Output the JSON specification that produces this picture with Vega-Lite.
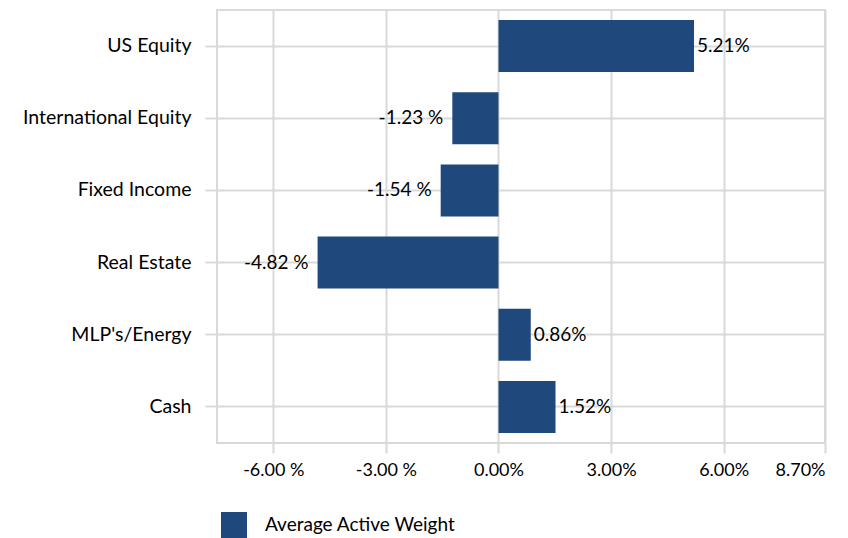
{
  "$schema": "https://vega.github.io/schema/vega-lite/v6.json",
  "width": 608,
  "height": 433,
  "autosize": "none",
  "padding": {"left": 217, "top": 10, "right": 23, "bottom": 95},
  "background": "white",
  "config": {
    "font": "Lato",
    "view": {"stroke": "#d9d9d9", "strokeWidth": 2},
    "axis": {"labelFont": "Lato", "labelFontSize": 19, "labelColor": "#000000", "gridColor": "#d9d9d9", "gridWidth": 2, "tickColor": "#d9d9d9", "tickWidth": 2, "domain": false}
  },
  "data": {
    "values": [
      {"category": "US Equity", "value": 5.21},
      {"category": "International Equity", "value": -1.23},
      {"category": "Fixed Income", "value": -1.54},
      {"category": "Real Estate", "value": -4.82},
      {"category": "MLP's/Energy", "value": 0.86},
      {"category": "Cash", "value": 1.52}
    ]
  },
  "encoding": {
    "y": {
      "field": "category",
      "type": "nominal",
      "sort": null,
      "scale": {"paddingInner": 0.28, "paddingOuter": 0.14},
      "axis": {"title": null, "grid": true, "ticks": true, "tickSize": 12, "labelPadding": 14, "labelFontSize": 19.5}
    }
  },
  "layer": [
    {
      "mark": {"type": "bar", "color": "#1f497d"},
      "encoding": {
        "x": {
          "field": "value",
          "type": "quantitative",
          "scale": {"domain": [-7.5, 8.7], "nice": false, "zero": false},
          "axis": {
            "title": null,
            "values": [-6, -3, 0, 3, 6, 8.7],
            "labelExpr": "datum.value < 0 ? '-' + format(abs(datum.value), '.2f') + ' %' : format(datum.value, '.2f') + '%'",
            "labelFlush": true,
            "labelFontSize": 18,
            "tickSize": 10,
            "labelPadding": 8,
            "grid": true
          }
        },
        "color": {
          "datum": "Average Active Weight",
          "type": "nominal",
          "scale": {"range": ["#1f497d"]},
          "legend": {
            "title": null,
            "orient": "none",
            "legendX": 4,
            "legendY": 502,
            "symbolType": "square",
            "symbolSize": 676,
            "symbolStrokeWidth": 0,
            "labelFont": "Lato",
            "labelFontSize": 19,
            "labelColor": "#000000",
            "labelOffset": 18,
            "labelLimit": 0,
            "padding": 0
          }
        }
      }
    },
    {
      "transform": [{"filter": "datum.value >= 0"}, {"calculate": "format(datum.value, '.2f') + '%'", "as": "lbl"}],
      "mark": {"type": "text", "align": "left", "baseline": "middle", "dx": 3, "fontSize": 19, "font": "Lato", "color": "#000000"},
      "encoding": {
        "x": {"field": "value", "type": "quantitative"},
        "text": {"field": "lbl", "type": "nominal"}
      }
    },
    {
      "transform": [{"filter": "datum.value < 0"}, {"calculate": "'-' + format(abs(datum.value), '.2f') + ' %'", "as": "lbl"}],
      "mark": {"type": "text", "align": "right", "baseline": "middle", "dx": -9, "fontSize": 19, "font": "Lato", "color": "#000000"},
      "encoding": {
        "x": {"field": "value", "type": "quantitative"},
        "text": {"field": "lbl", "type": "nominal"}
      }
    }
  ]
}
